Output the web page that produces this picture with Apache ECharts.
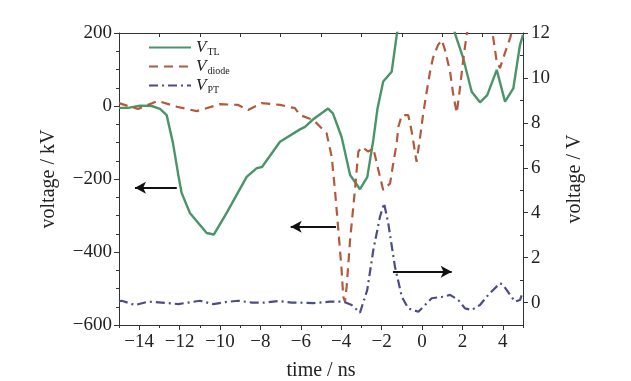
<!DOCTYPE html>
<html>
<head>
<meta charset="utf-8">
<script src="https://cdn.jsdelivr.net/npm/echarts@6/dist/echarts.min.js"></script>
<style>html,body{margin:0;padding:0;background:#fff}#c{width:631px;height:381px}</style>
</head>
<body>
<div id="c"></div>
<script>
// ---- data ----
const seriesNames = ['V_TL', 'V_diode', 'V_PT'];
const seriesSubs = ['TL', 'diode', 'PT'];

const tlTime = [-15, -14.55, -13.96, -13.38, -12.97, -12.64, -12.33, -12.08, -11.9, -11.49, -10.66, -10.3, -9.67, -8.68, -8.18, -7.92, -7.03, -6.04, -5.79, -5.4, -4.65, -4.41, -3.98, -3.56, -3.07, -2.71, -2.41, -2.2, -1.92, -1.5, -1.25, -1.0, 1.4, 1.63, 2.04, 2.46, 2.87, 3.23, 3.7, 4.11, 4.52, 4.85, 5.0];
const tlKV = [-5, -5, 1, 0, -8, -25, -101, -184, -238, -293, -348, -352, -293, -194, -170, -167, -98, -64, -57, -37, -7, -20, -85, -189, -228, -195, -93, -6, 67, 94, 195, 260, 260, 199, 131, 39, 10, 30, 99, 12, 48, 167, 195];

const diodeTime = [-15, -14.55, -14.06, -13.07, -12.14, -11.15, -10.0, -9.1, -8.61, -7.94, -7.03, -6.29, -6.04, -5.38, -4.72, -4.47, -4.31, -4.14, -3.98, -3.9, -3.81, -3.73, -3.56, -3.32, -3.15, -2.98, -2.66, -2.41, -2.08, -1.92, -1.58, -1.42, -1.25, -1.17, -1.0, -0.68, -0.51, -0.35, -0.27, -0.1, 0.05, 0.23, 0.4, 0.54, 0.79, 0.98, 1.14, 1.39, 1.55, 1.72, 1.88, 2.05, 2.21, 2.5, 3.3, 3.53, 3.7, 3.86, 4.19, 4.36, 4.7, 5.0];
const diodeKV = [8, 0, -8, 14, -2, -14, 5, 3, -11, 8, 3, -6, -25, -38, -75, -139, -230, -340, -449, -522, -536, -495, -367, -230, -125, -112, -125, -116, -194, -230, -212, -156, -101, -57, -25, -25, -70, -125, -153, -88, -25, 39, 94, 131, 167, 181, 153, 94, 30, -19, 49, 131, 195, 280, 260, 186, 121, 104, 159, 186, 260, 300];

const ptTime = [-15, -14.87, -14.21, -13.55, -12.89, -12.06, -11.57, -10.99, -10.33, -9.75, -9.09, -8.43, -7.77, -7.11, -6.45, -6.2, -5.38, -4.55, -3.9, -3.48, -3.07, -2.71, -2.41, -2.08, -1.88, -1.67, -1.34, -1.0, -0.68, -0.18, 0.15, 0.48, 1.05, 1.39, 1.8, 2.13, 2.46, 2.87, 3.28, 3.86, 4.02, 4.36, 4.6, 4.85, 5.0];
const ptV = [0.05, 0.08, -0.11, 0.04, 0, -0.07, 0, 0.08, -0.07, 0.02, 0.08, 0, 0, 0.07, 0, 0, -0.03, 0.04, 0.04, -0.11, -0.45, 0.56, 2.34, 3.82, 4.42, 3.53, 1.6, 0.26, -0.26, -0.41, -0.11, 0.19, 0.26, 0.34, 0.11, -0.26, -0.33, -0.11, 0.34, 0.86, 0.78, 0.34, 0.04, 0.11, 0.48];

const xMajorTicks = [-14, -12, -10, -8, -6, -4, -2, 0, 2, 4];
const xMinorTicks = [-15, -13, -11, -9, -7, -5, -3, -1, 1, 3, 5];
const rightMajorTicks = [0, 2, 4, 6, 8, 10, 12];
const rightMinorTicks = [1, 3, 5, 7, 9, 11];

// arrows: [from, to] in data units
const arrowTL = [[-12.14, -224], [-14.21, -224]];
const arrowDiode = [[-4.26, -331], [-6.5, -331]];
const arrowPT = [[-1.44, 1.37], [1.47, 1.37]];

// ---- chart ----
const FONT = 'Liberation Serif';
const AX = '#333';
const TICK_FS = 19;
const NAME_FS = 20;
const minus = v => String(v).replace('-', '\u2212');
const zip = (a, b) => a.map((x, i) => [x, b[i]]);
const arrow = (pts) => ({
  silent: true,
  symbol: ['none', 'arrow'],
  symbolSize: [9, 11],
  label: { show: false },
  lineStyle: { color: '#111', width: 2, type: 'solid' },
  emphasis: { disabled: true },
  animation: false,
  data: [[{ coord: pts[0] }, { coord: pts[1] }]]
});
const line = (w) => ({ show: true, onZero: false, lineStyle: { color: AX, width: w } });

const chart = echarts.init(document.getElementById('c'), null, { renderer: 'canvas' });
chart.setOption({
  animation: false,
  backgroundColor: '#fff',
  grid: { left: 119, right: 108, top: 33, bottom: 56, containLabel: false, outerBoundsMode: 'none' },
  legend: {
    orient: 'vertical',
    left: 143,
    top: 34,
    itemWidth: 42,
    itemHeight: 12,
    itemGap: 1,
    data: seriesNames,
    itemStyle: { opacity: 0, color: 'transparent', borderWidth: 0 },
    formatter: name => '{v|V}{s|' + seriesSubs[seriesNames.indexOf(name)] + '}',
    textStyle: {
      rich: {
        v: { fontFamily: FONT, fontStyle: 'italic', fontSize: 17, lineHeight: 19, color: '#222', verticalAlign: 'middle' },
        s: { fontFamily: FONT, fontSize: 10, color: '#222', verticalAlign: 'bottom', padding: [0, 0, 0, 1] }
      }
    }
  },
  xAxis: [
    {
      type: 'value', min: -15, max: 5, position: 'bottom',
      axisLine: line(1),
      axisTick: { show: true, customValues: xMajorTicks, length: 5, inside: false, lineStyle: { color: AX } },
      axisLabel: { customValues: xMajorTicks, formatter: minus, margin: 8, fontFamily: FONT, fontSize: TICK_FS, color: '#222' },
      splitLine: { show: false },
      name: 'time / ns', nameLocation: 'middle', nameGap: 36,
      nameTextStyle: { fontFamily: FONT, fontSize: NAME_FS, color: '#222' }
    },
    {
      type: 'value', min: -15, max: 5, position: 'bottom',
      axisLine: { show: false, onZero: false },
      axisTick: { show: true, customValues: xMinorTicks, length: 3, lineStyle: { color: AX } },
      axisLabel: { show: false },
      splitLine: { show: false }
    },
    {
      type: 'value', min: -15, max: 5, position: 'top',
      axisLine: line(1),
      axisTick: { show: true, customValues: xMinorTicks, length: 4, inside: true, lineStyle: { color: AX } },
      axisLabel: { show: false },
      splitLine: { show: false }
    }
  ],
  yAxis: [
    {
      type: 'value', min: -600, max: 200, interval: 200, position: 'left',
      axisLine: line(1),
      axisTick: { show: true, length: 5, lineStyle: { color: AX } },
      minorTick: { show: true, splitNumber: 4, length: 3, lineStyle: { color: AX } },
      axisLabel: { formatter: minus, margin: 7, fontFamily: FONT, fontSize: TICK_FS, color: '#222' },
      splitLine: { show: false },
      name: 'voltage / kV', nameLocation: 'middle', nameGap: 60, nameRotate: 90,
      nameTextStyle: { fontFamily: FONT, fontSize: NAME_FS, color: '#222' }
    },
    {
      type: 'value', min: -1, max: 12, position: 'right',
      axisLine: line(1),
      axisTick: { show: true, customValues: rightMajorTicks, length: 5, lineStyle: { color: AX } },
      axisLabel: { customValues: rightMajorTicks, margin: 8, fontFamily: FONT, fontSize: TICK_FS, color: '#222' },
      splitLine: { show: false },
      name: 'voltage / V', nameLocation: 'middle', nameGap: 42, nameRotate: 90,
      nameTextStyle: { fontFamily: FONT, fontSize: NAME_FS, color: '#222' }
    },
    {
      type: 'value', min: -1, max: 12, position: 'right',
      axisLine: { show: false, onZero: false },
      axisTick: { show: true, customValues: rightMinorTicks, length: 3, inside: true, lineStyle: { color: AX } },
      axisLabel: { show: false },
      splitLine: { show: false }
    }
  ],
  series: [
    {
      name: seriesNames[0], type: 'line', xAxisIndex: 0, yAxisIndex: 0,
      data: zip(tlTime, tlKV), showSymbol: false, symbol: 'none', clip: true,
      lineStyle: { color: '#4a946a', width: 2.4, type: 'solid' },
      itemStyle: { color: '#4a946a' },
      markLine: arrow(arrowTL)
    },
    {
      name: seriesNames[1], type: 'line', xAxisIndex: 0, yAxisIndex: 0,
      data: zip(diodeTime, diodeKV), showSymbol: false, symbol: 'none', clip: true,
      lineStyle: { color: '#b25a3c', width: 2.2, type: [9, 6] },
      itemStyle: { color: '#b25a3c' },
      markLine: arrow(arrowDiode)
    },
    {
      name: seriesNames[2], type: 'line', xAxisIndex: 0, yAxisIndex: 1,
      data: zip(ptTime, ptV), showSymbol: false, symbol: 'none', clip: true,
      lineStyle: { color: '#4c4c88', width: 2.2, type: [9, 4, 2, 4] },
      itemStyle: { color: '#4c4c88' },
      markLine: arrow(arrowPT)
    }
  ]
});
</script>
</body>
</html>
